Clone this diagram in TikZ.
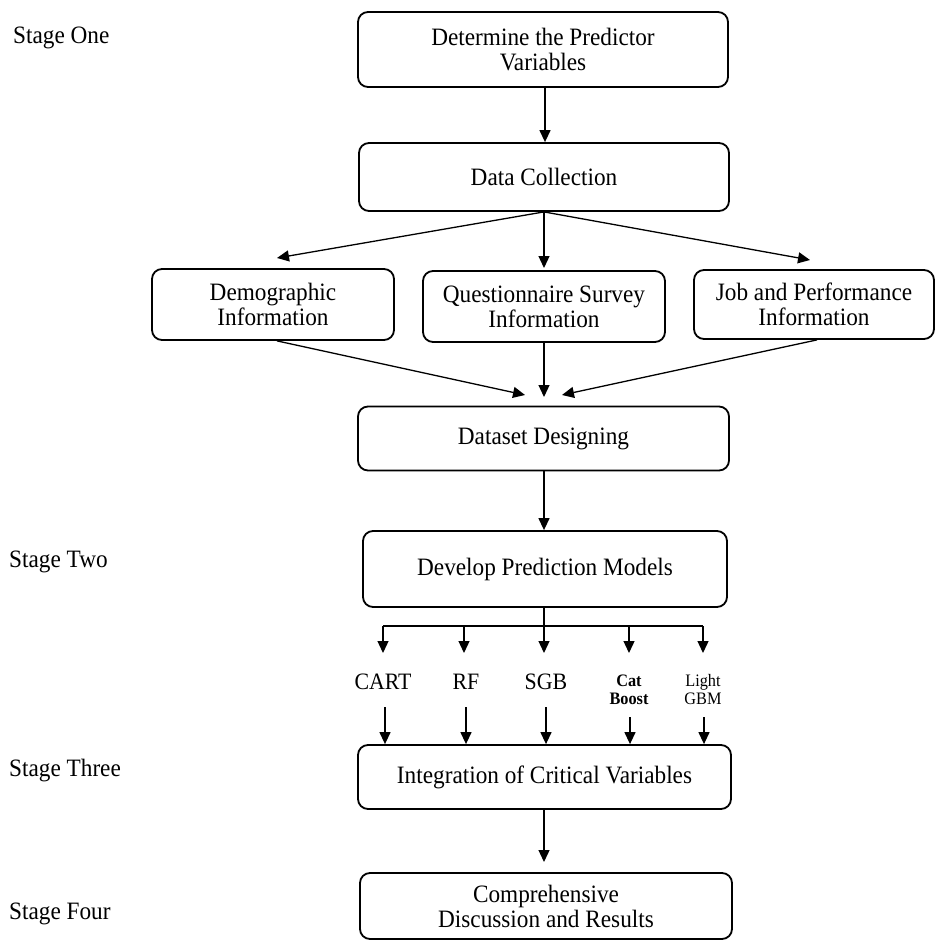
\documentclass[tikz,border=0pt]{standalone}
\usepackage{fontspec}
\setmainfont[FakeStretch=0.93]{Liberation Serif}
\usetikzlibrary{arrows.meta}
\begin{document}
\begin{tikzpicture}[x=1pt,y=-1pt,
  box/.style={draw, line width=1.8pt, rounded corners=10pt, align=center,
    font=\fontsize{25}{25}\selectfont, inner sep=0pt},
  arr/.style={line width=1.3pt, -{Triangle[length=12pt,width=11pt]}},
  plainline/.style={line width=1.3pt},
  stagelbl/.style={anchor=base west, font=\fontsize{25}{25}\selectfont, inner sep=0pt},
  mdl/.style={anchor=base, font=\fontsize{23.5}{23.5}\selectfont, inner sep=0pt},
  mdlsmall/.style={align=center, font=\fontsize{17.5}{18}\selectfont, inner sep=0pt}]
\path[use as bounding box] (0,0) rectangle (935,942);

% stage labels
\node[stagelbl] (s1) at (13,44) {Stage One};
\node[stagelbl] (s2) at (9,567) {Stage Two};
\node[stagelbl] (s3) at (9,776) {Stage Three};
\node[stagelbl] (s4) at (9,919) {Stage Four};

% boxes
\node[box, minimum width=370pt, minimum height=75pt] (b1) at (543,49.5) {Determine the Predictor\\Variables};
\node[box, minimum width=370pt, minimum height=68pt] (b2) at (544,177) {Data Collection};
\node[box, minimum width=242pt, minimum height=71pt] (dem) at (273,304.5) {Demographic\\Information};
\node[box, minimum width=242pt, minimum height=71pt] (que) at (544,306.5) {Questionnaire Survey\\Information};
\node[box, minimum width=240pt, minimum height=69pt] (job) at (814,304.5) {Job and Performance\\Information};
\node[box, minimum width=371pt, minimum height=64pt] (ds) at (543.5,438.5) {Dataset Designing};
\node[box, minimum width=364pt, minimum height=76pt] (dev) at (545,569) {Develop Prediction Models};
\node[box, minimum width=373pt, minimum height=64pt] (integ) at (544.5,777) {Integration of Critical Variables};
\node[box, minimum width=372pt, minimum height=66pt] (comp) at (546,906) {Comprehensive\\Discussion and Results};

% model labels
\node[mdl] (cart) at (383,689) {CART};
\node[mdl] (rf) at (466,689) {RF};
\node[mdl] (sgb) at (546,689) {SGB};
\node[mdlsmall, font=\fontsize{17.5}{18}\selectfont\bfseries] (cat) at (629,690) {Cat\\Boost};
\node[mdlsmall] (light) at (703,690) {Light\\GBM};

% coordinates
\coordinate (tL) at (277,258);
\coordinate (tM) at (544,268);
\coordinate (tR) at (810,260);
\coordinate (dL) at (525,395);
\coordinate (dM) at (544,397);
\coordinate (dR) at (562,395);
\coordinate (br) at (544,626);
\coordinate (br1) at (383,626);
\coordinate (br2) at (464,626);
\coordinate (br3) at (544,626);
\coordinate (br4) at (629,626);
\coordinate (br5) at (703,626);
\coordinate (t1) at (383,653);
\coordinate (t2) at (464,653);
\coordinate (t3) at (544,653);
\coordinate (t4) at (629,653);
\coordinate (t5) at (703,653);
\coordinate (u1) at (385,707);
\coordinate (u2) at (466,707);
\coordinate (u3) at (546,707);
\coordinate (u4) at (630,717);
\coordinate (u5) at (704,717);
\coordinate (ce) at (544,862);

% connectors
\draw[arr] (b1.south -| 545,0) -- (b2.north -| 545,0);
\draw[arr] (b2.south) -- (tL);
\draw[arr] (b2.south) -- (tM);
\draw[arr] (b2.south) -- (tR);
\draw[arr] (dem.south -| 277,0) -- (dL);
\draw[arr] (que.south) -- (dM);
\draw[arr] (job.south -| 817,0) -- (dR);
\draw[arr] (ds.south -| 544,0) -- (dev.north -| 544,0);
\draw[plainline] (dev.south -| 544,0) -- (br);
\draw[line width=1.8pt] (br1) -- (br5);
\draw[arr] (br1) -- (t1);
\draw[arr] (br2) -- (t2);
\draw[arr] (br3) -- (t3);
\draw[arr] (br4) -- (t4);
\draw[arr] (br5) -- (t5);
\draw[arr] (u1) -- (u1 |- integ.north);
\draw[arr] (u2) -- (u2 |- integ.north);
\draw[arr] (u3) -- (u3 |- integ.north);
\draw[arr] (u4) -- (u4 |- integ.north);
\draw[arr] (u5) -- (u5 |- integ.north);
\draw[arr] (integ.south -| 544,0) -- (ce);
\end{tikzpicture}
\end{document}
